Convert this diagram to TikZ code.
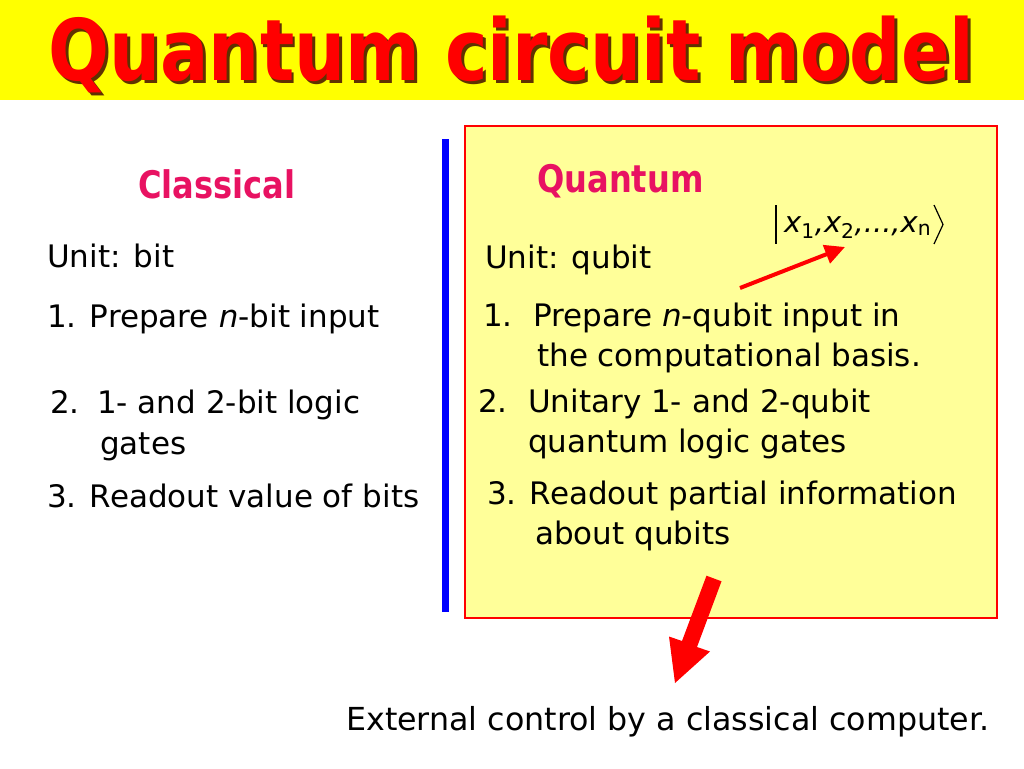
\documentclass[tikz,border=0pt]{standalone}
\usepackage{fontspec}
\usepackage{graphicx}
\setmainfont{DejaVu Sans}
\usetikzlibrary{arrows.meta}
\definecolor{titlered}{RGB}{255,0,0}
\definecolor{titleshadow}{RGB}{95,50,0}
\definecolor{hdr}{RGB}{232,18,98}
\definecolor{boxfill}{RGB}{255,255,153}
\definecolor{band}{RGB}{255,255,0}
\definecolor{barblue}{RGB}{0,0,255}
\newcommand{\shadowtitle}[1]{\rlap{\hspace{3.5pt}\raisebox{-3.5pt}{\color{titleshadow}#1}}#1}
\begin{document}
\begin{tikzpicture}[x=1pt,y=-1pt,
  txt/.style={inner sep=0pt, anchor=base west, font=\fontsize{31}{37}\selectfont},
  hdrtxt/.style={inner sep=0pt, anchor=base west, text=hdr, font=\fontsize{38}{44}\selectfont\bfseries},
  titletxt/.style={inner sep=0pt, anchor=base west, font=\fontsize{85}{90}\selectfont\bfseries},
  kettxt/.style={inner sep=0pt, anchor=base west, font=\fontsize{29}{32}\selectfont\itshape}
  ]
\useasboundingbox (0,0) rectangle (1024,768);
% title band
\fill[band] (0,0) rectangle (1024,100);
\node[titletxt, text=titlered] (title) at (48,80) {\scalebox{0.845}[1]{\shadowtitle{Quantum circuit model}}};
% quantum box and separator
\draw[red, line width=1.2pt, fill=boxfill] (465,126) rectangle (997,618);
\fill[barblue] (442,139) rectangle (449,612);
% headers
\node[hdrtxt] (hclass) at (138,198) {\scalebox{0.845}[1]{Classical}};
\node[hdrtxt] (hquant) at (537,192) {\scalebox{0.845}[1]{Quantum}};
% classical column
\node[txt] (cunit) at (47,267) {Unit: bit};
\node[txt] (c1) at (47,327) {1. Prepare \textit{n}-bit input};
\node[txt] (c2n) at (50,413) {2.};
\node[txt] (c2a) at (97,413) {1- and 2-bit logic};
\node[txt] (c2b) at (100,454) {gates};
\node[txt] (c3) at (47,507) {3. Readout value of bits};
% quantum column
\node[txt] (qunit) at (485,268) {Unit: qubit};
\node[txt] (q1n) at (483,326) {1.};
\node[txt] (q1a) at (533,326) {Prepare \textit{n}-qubit input in};
\node[txt] (q1b) at (537,366) {the computational basis.};
\node[txt] (q2n) at (478,412) {2.};
\node[txt] (q2a) at (528,412) {Unitary 1- and 2-qubit};
\node[txt] (q2b) at (528,452) {quantum logic gates};
\node[txt] (q3a) at (487,504) {3. Readout partial information};
\node[txt] (q3b) at (535,544) {about qubits};
% ket
\node[kettxt] (ket) at (784,232) {x\textsubscript{\upshape 1},x\textsubscript{\upshape 2},...,x\textsubscript{\upshape n}};
\draw[line width=1.2pt] (776,205) -- (776,244);
\draw[line width=1.2pt, line join=miter] (934,205) -- (943,224.5) -- (934,244);
% small arrow
\coordinate (qtail) at (740,288);
\coordinate (qtip) at (845,247);
\draw[red, line width=4pt, -{Triangle[length=20pt,width=19pt]}] (qtail) -- (qtip);
% big block arrow
\fill[red] (706.5,575.7) -- (721.5,581.3) -- (697,647) -- (710,651.5) -- (675,683)
  -- (669,636.5) -- (682,641) -- cycle;
% bottom text
\node[txt, font=\fontsize{31.7}{37}\selectfont] (ext) at (346,730) {External control by a classical computer.};
\end{tikzpicture}
\end{document}
